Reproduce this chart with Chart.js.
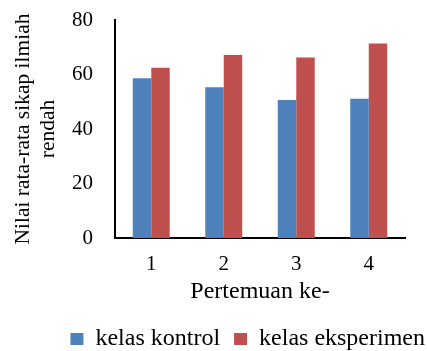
<!DOCTYPE html>
<html>
<head>
<meta charset="utf-8">
<script src="https://cdn.jsdelivr.net/npm/chart.js@4/dist/chart.umd.min.js"></script>
<style>
  html, body { margin: 0; padding: 0; background: #fff; }
  #wrap { width: 427px; height: 351px; }
</style>
</head>
<body>
<div id="wrap"><canvas id="c" width="427" height="351"></canvas></div>
<script>
// Mean "sikap ilmiah rendah" score per meeting, control vs experiment class
const meetings = ['1', '2', '3', '4'];
const kontrol = [58.6, 55.3, 50.6, 51.1];
const eksperimen = [62.5, 67.2, 66.2, 71.4];
const yTicks = [0, 20, 40, 60, 80];

const serif = 'Liberation Serif, Times New Roman, serif';

new Chart(document.getElementById('c'), {
  type: 'bar',
  data: {
    labels: meetings,
    datasets: [
      { label: 'kelas kontrol', data: kontrol, backgroundColor: '#4F81BD' },
      { label: 'kelas eksperimen', data: eksperimen, backgroundColor: '#C0504D' }
    ]
  },
  options: {
    responsive: false,
    animation: false,
    devicePixelRatio: 1,
    layout: { padding: { left: 0, right: -12, top: 20, bottom: -10 } },
    datasets: { bar: { categoryPercentage: 0.51, barPercentage: 1.0 } },
    plugins: {
      legend: {
        position: 'bottom',
        align: 'end',
        labels: {
          color: '#000',
          font: { family: serif, size: 24 },
          boxWidth: 13,
          boxHeight: 12,
          padding: 14
        }
      },
      tooltip: { enabled: false }
    },
    scales: {
      x: {
        grid: { display: false, drawTicks: false },
        border: { color: '#000', width: 2 },
        ticks: { color: '#000', font: { family: serif, size: 21 }, padding: 14 },
        title: {
          display: true,
          text: 'Pertemuan ke-',
          color: '#000',
          font: { family: serif, size: 24, lineHeight: 1.2 },
          padding: { top: 0, bottom: 7 }
        },
        afterFit: (scale) => { scale.height = 75; }
      },
      y: {
        min: 0,
        max: 80,
        afterBuildTicks: (scale) => { scale.ticks = yTicks.map(v => ({ value: v })); },
        grid: { display: false, drawTicks: false },
        border: { color: '#000', width: 2 },
        ticks: { color: '#000', font: { family: serif, size: 21 }, padding: 22 },
        title: {
          display: true,
          text: ['Nilai rata-rata sikap ilmiah', 'rendah'],
          color: '#000',
          font: { family: serif, size: 21.5, lineHeight: 1.16 },
          padding: { top: 11, bottom: 12 }
        },
        afterFit: (scale) => {
          scale.width = 115;
          scale.paddingTop = 0;
          scale.paddingBottom = 0;
        }
      },
      // empty right-hand gutter keeping the plot clear of the canvas edge
      gutter: {
        type: 'linear',
        position: 'right',
        display: true,
        grid: { display: false, drawTicks: false },
        border: { display: false },
        ticks: { display: false },
        afterFit: (scale) => { scale.width = 34; }
      }
    }
  }
});
</script>
</body>
</html>
